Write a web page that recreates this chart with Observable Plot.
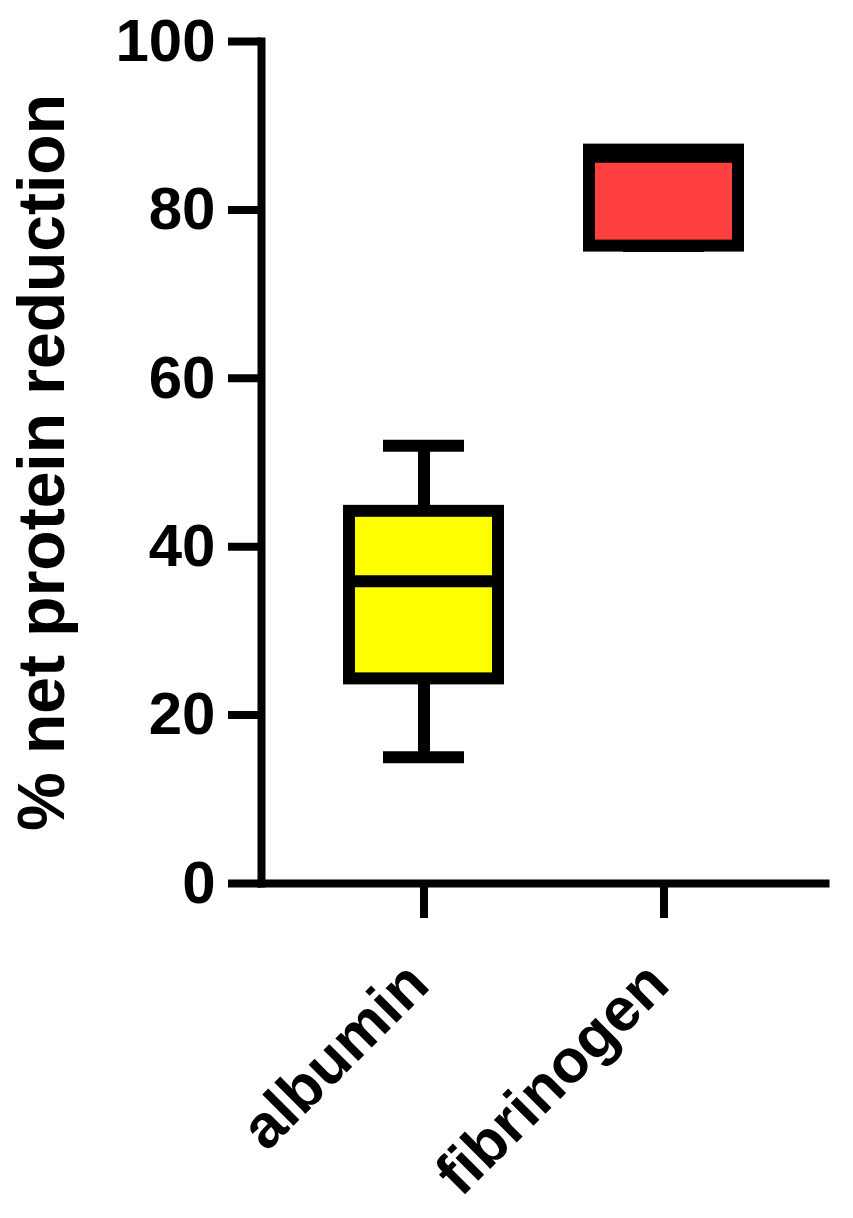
<!DOCTYPE html>
<html>
<head>
<meta charset="utf-8">
<script src="https://cdn.jsdelivr.net/npm/d3@7"></script>
<script src="https://cdn.jsdelivr.net/npm/@observablehq/plot@0.6"></script>
<style>
  html, body { margin: 0; padding: 0; background: #fff; }
</style>
</head>
<body>
<div id="chart"></div>
<script>
const categories = ["albumin", "fibrinogen"];
const mins    = [15.0, 75.7];
const q1s     = [24.3, 75.7];
const medians = [35.9, 86.3];
const q3s     = [44.2, 87.1];
const maxs    = [52.0, 87.1];
const fills   = ["#FFFF00", "#FF4040"];
const yTicks  = [0, 20, 40, 60, 80, 100];
const yLabel  = "% net protein reduction";

const data = categories.map((c, i) => ({
  cat: c, min: mins[i], q1: q1s[i], median: medians[i], q3: q3s[i], max: maxs[i], fill: fills[i]
}));

const FONT = "Liberation Sans, Arial, sans-serif";

const chart = Plot.plot({
  width: 853,
  height: 1218,
  marginLeft: 261,
  marginRight: 28,
  marginTop: 41,
  marginBottom: 335,
  style: { fontFamily: FONT, background: "white", color: "black" },
  x: { domain: categories, paddingInner: 0.38, paddingOuter: 0.3625 },
  y: { domain: [0, 100] },
  marks: [
    // whiskers
    Plot.ruleX(data, { x: "cat", y1: "q3", y2: "max", stroke: "black", strokeWidth: 12 }),
    Plot.ruleX(data, { x: "cat", y1: "min", y2: "q1", stroke: "black", strokeWidth: 12 }),
    Plot.tickY(data, { x: "cat", y: "max", stroke: "black", strokeWidth: 12, insetLeft: 34, insetRight: 34 }),
    Plot.tickY(data, { x: "cat", y: "min", stroke: "black", strokeWidth: 12, insetLeft: 34, insetRight: 34 }),
    // boxes
    Plot.barY(data, { x: "cat", y1: "q1", y2: "q3", fill: "fill", stroke: "black", strokeWidth: 12 }),
    Plot.tickY(data, { x: "cat", y: "median", stroke: "black", strokeWidth: 12 }),
    // axes
    Plot.axisY({ ticks: yTicks, tickSize: 33, tickPadding: 13, strokeWidth: 8, fontSize: 60, fontWeight: "bold", label: null }),
    Plot.axisX({ tickSize: 35, strokeWidth: 8, tickFormat: () => null, label: null }),
    Plot.text(categories, { x: d => d, text: d => d, frameAnchor: "bottom", rotate: -45, textAnchor: "end", lineAnchor: "middle", dx: -6, dy: 90, fontSize: 61, fontWeight: "bold" }),
    Plot.frame({ anchor: "left", stroke: "black", strokeWidth: 8 }),
    Plot.frame({ anchor: "bottom", stroke: "black", strokeWidth: 8 }),
    Plot.text([yLabel], { text: d => d, frameAnchor: "left", dx: -219, rotate: -90, fontSize: 66, fontWeight: "bold", textAnchor: "middle", lineAnchor: "middle" })
  ]
});
document.getElementById("chart").appendChild(chart);
</script>
</body>
</html>
